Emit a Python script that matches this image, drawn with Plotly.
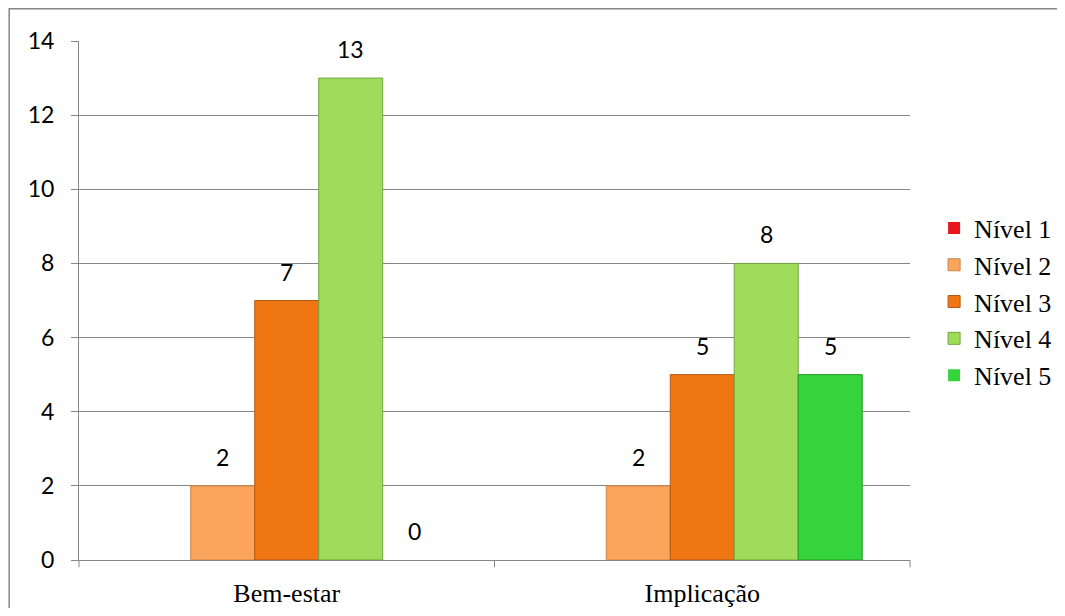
import plotly.graph_objects as go

# dados do gráfico
categorias = ["Bem-estar", "Implicação"]
niveis = ["Nível 1", "Nível 2", "Nível 3", "Nível 4", "Nível 5"]
nivel_1 = [None, None]
nivel_2 = [2, 2]
nivel_3 = [7, 5]
nivel_4 = [13, 8]
nivel_5 = [0, 5]
valores = [nivel_1, nivel_2, nivel_3, nivel_4, nivel_5]

# cores (preenchimento, contorno)
cores = ["#E8161E", "#FBA55C", "#F07614", "#9EDC59", "#36D43C"]
contornos = ["#A01014", "#C7834A", "#B35810", "#74A441", "#239A27"]

BARGAP = 0.23
fonte_num = dict(family="Lato, Open Sans, sans-serif", size=23, color="black")

fig = go.Figure()
for nome, vals, cor, borda in zip(niveis, valores, cores, contornos):
    fig.add_trace(
        go.Bar(
            x=categorias,
            y=vals,
            name=nome,
            legendgroup=nome,
            marker=dict(
                color=cor,
                line=dict(color=borda, width=[0 if not v else 1 for v in vals]),
            ),
        )
    )

# rótulos de valor acima das barras
n = len(niveis)
largura = (1 - BARGAP) / n
for j, vals in enumerate(valores):
    for i, v in enumerate(vals):
        if v is None:
            continue
        fig.add_annotation(
            x=i - (1 - BARGAP) / 2 + largura * (j + 0.5),
            y=v,
            text=str(v),
            showarrow=False,
            yshift=29,
            font=fonte_num,
        )

fig.update_layout(
    width=1049,
    height=600,
    margin=dict(l=71, r=147, t=33, b=48, autoexpand=False),
    paper_bgcolor="white",
    plot_bgcolor="white",
    barmode="group",
    bargap=BARGAP,
    bargroupgap=0,
    showlegend=True,
    legend=dict(
        x=1.029,
        y=0.497,
        xanchor="left",
        yanchor="middle",
        font=dict(family="Liberation Serif", size=26, color="black"),
        tracegroupgap=0,
        itemwidth=30,
        bgcolor="rgba(0,0,0,0)",
    ),
    xaxis=dict(
        showline=True,
        linecolor="#868686",
        linewidth=1,
        showgrid=False,
        ticks="",
        ticklabelstandoff=10,
        tickfont=dict(family="Liberation Serif", size=26, color="black"),
        automargin=False,
    ),
    yaxis=dict(
        range=[0, 14],
        dtick=2,
        showline=True,
        linecolor="#868686",
        linewidth=1,
        showgrid=True,
        gridcolor="#868686",
        gridwidth=1,
        ticks="outside",
        ticklen=7,
        tickcolor="#868686",
        ticklabelstandoff=12,
        tickfont=fonte_num,
        zeroline=False,
        automargin=False,
    ),
)

# marcas de divisão das categorias no eixo x
for xp in [0, 0.5, 1]:
    fig.add_shape(type="line", xref="paper", yref="paper",
                  x0=xp, x1=xp, y0=0, y1=-0.014,
                  line=dict(color="#868686", width=1))
# moldura externa
fig.add_shape(type="rect", xref="paper", yref="paper",
              x0=-0.084, x1=1.2, y0=-0.12, y1=1.062,
              line=dict(color="#868686", width=1.5))

fig.write_html("out.html")
